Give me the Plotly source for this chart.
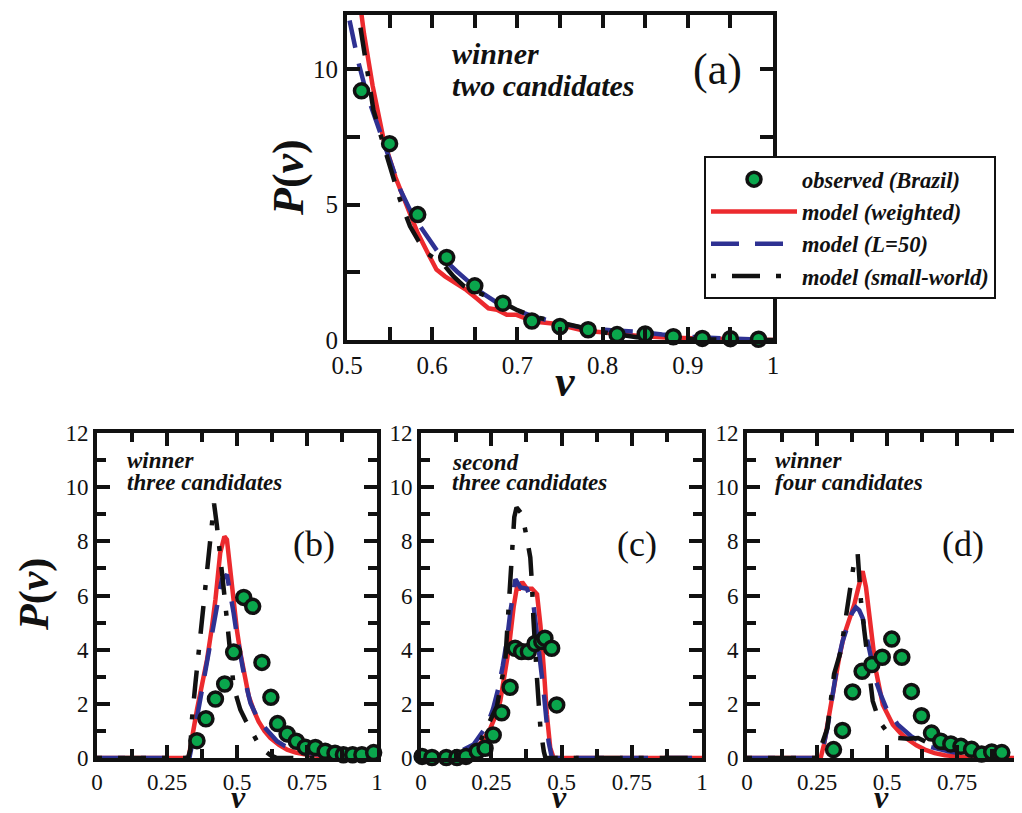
import plotly.graph_objects as go

# ---------------- data ----------------
# panel (a): winner, two candidates
a_obs_v = [0.517, 0.55, 0.583, 0.617, 0.65, 0.683, 0.717, 0.75, 0.783, 0.817, 0.85, 0.883, 0.917, 0.95, 0.983]
a_obs_p = [9.2, 7.25, 4.63, 3.05, 2.0, 1.36, 0.7, 0.5, 0.38, 0.2, 0.22, 0.12, 0.06, 0.05, 0.03]
a_red_v = [0.515, 0.52, 0.53, 0.543, 0.557, 0.57, 0.583, 0.595, 0.605, 0.615, 0.625, 0.64, 0.652, 0.666, 0.676,
           0.6875, 0.699, 0.719, 0.744, 0.76, 0.78, 0.80, 0.84, 0.88, 0.92, 0.96, 1.0]
a_red_p = [12.5, 11.3, 9.4, 7.4, 6.0, 4.95, 3.95, 3.2, 2.6, 2.35, 2.16, 1.85, 1.54, 1.17, 1.12,
           0.93, 0.93, 0.68, 0.6, 0.48, 0.33, 0.29, 0.16, 0.08, 0.04, 0.02, 0.0]
a_blue_v = [0.503, 0.513, 0.523, 0.533, 0.543, 0.553, 0.5625, 0.577, 0.592, 0.61, 0.629, 0.643, 0.656, 0.677,
            0.70, 0.719, 0.75, 0.78, 0.81, 0.84, 0.87, 0.9, 0.95, 1.0]
a_blue_p = [11.8, 10.3, 9.1, 8.2, 7.4, 6.4, 5.55, 4.6, 3.9, 3.1, 2.53, 2.15, 1.79, 1.36,
            1.08, 0.86, 0.62, 0.43, 0.36, 0.31, 0.2, 0.12, 0.05, 0.0]
a_black_v = [0.512, 0.52, 0.531, 0.541, 0.551, 0.562, 0.574, 0.584, 0.594, 0.603, 0.613, 0.625, 0.637, 0.65,
             0.664, 0.684, 0.70, 0.72, 0.754, 0.78, 0.8, 0.84, 0.88, 0.92, 1.0]
a_black_p = [12.3, 10.6, 8.5, 7.4, 6.4, 5.2, 4.2, 3.65, 3.2, 3.0, 2.8, 2.35, 2.0, 1.8,
             1.63, 1.36, 1.1, 0.86, 0.62, 0.45, 0.29, 0.1, 0.05, 0.02, 0.0]

# panel (b): winner, three candidates
b_obs_v = [0.357, 0.389, 0.423, 0.456, 0.488, 0.524, 0.556, 0.589, 0.621, 0.645, 0.679, 0.712, 0.744, 0.78,
           0.815, 0.85, 0.88, 0.913, 0.946, 0.988]
b_obs_p = [0.64, 1.45, 2.18, 2.73, 3.91, 5.93, 5.6, 3.53, 2.24, 1.27, 0.89, 0.62, 0.4, 0.39,
           0.25, 0.18, 0.12, 0.12, 0.12, 0.2]
b_red_v = [0, 0.327, 0.357, 0.375, 0.393, 0.41, 0.423, 0.44, 0.455, 0.464, 0.476, 0.488, 0.5, 0.512, 0.527,
           0.542, 0.56, 0.577, 0.598, 0.619, 0.65, 0.679, 0.71, 0.75, 0.8, 0.845, 0.9, 1.0]
b_red_p = [0, 0, 1.78, 2.7, 3.63, 4.8, 5.85, 7.57, 8.18, 8.06, 6.8, 5.6, 4.7, 3.88, 3.0,
           2.28, 1.75, 1.35, 1.0, 0.74, 0.48, 0.31, 0.2, 0.12, 0.07, 0.04, 0.02, 0]
b_blue_v = [0, 0.33, 0.345, 0.363, 0.381, 0.4, 0.417, 0.432, 0.446, 0.464, 0.476, 0.488, 0.5, 0.512, 0.53,
            0.548, 0.57, 0.595, 0.62, 0.643, 0.67, 0.702, 0.74, 0.786, 0.85, 1.0]
b_blue_p = [0, 0, 0.8, 1.85, 2.9, 4.0, 5.1, 5.9, 6.6, 6.77, 6.1, 5.35, 4.5, 3.75, 2.8,
            2.03, 1.55, 1.17, 0.85, 0.62, 0.45, 0.31, 0.2, 0.12, 0.05, 0]
b_black_v = [0, 0.325, 0.333, 0.339, 0.351, 0.363, 0.375, 0.387, 0.397, 0.405, 0.412, 0.418, 0.428, 0.44, 0.452,
             0.464, 0.476, 0.488, 0.5, 0.512, 0.53, 0.548, 0.57, 0.595, 0.62, 0.643, 1.0]
b_black_p = [0, 0, 0.3, 1.42, 2.7, 3.9, 5.1, 6.3, 7.3, 8.2, 8.9, 9.4, 8.6, 7.6, 6.3,
             5.1, 3.9, 2.65, 2.2, 1.78, 1.4, 1.05, 0.65, 0.3, 0.1, 0, 0]

# panel (c): second, three candidates
c_obs_v = [0.004, 0.039, 0.09, 0.128, 0.16, 0.2, 0.228, 0.257, 0.287, 0.317, 0.335, 0.358, 0.382, 0.406,
           0.43, 0.441, 0.465, 0.483]
c_obs_p = [0.06, 0.02, 0.02, 0.02, 0.06, 0.25, 0.36, 0.85, 1.67, 2.61, 4.05, 3.93, 3.93, 4.23,
           4.3, 4.42, 4.05, 1.96]
c_red_v = [0, 0.128, 0.19, 0.22, 0.247, 0.265, 0.282, 0.297, 0.312, 0.33, 0.342, 0.348, 0.36, 0.377, 0.395,
           0.413, 0.425, 0.437, 0.448, 0.46, 0.472, 1.0]
c_red_p = [0.06, 0.06, 0.3, 0.65, 1.1, 1.55, 2.1, 3.0, 4.0, 5.6, 6.35, 6.2, 6.5, 6.25, 6.25,
           6.05, 4.9, 3.3, 1.6, 0.37, 0, 0]
c_blue_v = [0, 0.104, 0.187, 0.235, 0.256, 0.276, 0.291, 0.306, 0.318, 0.33, 0.336, 0.354, 0.377, 0.401,
            0.419, 0.437, 0.454, 0.466, 1.0]
c_blue_p = [0, 0.06, 0.5, 1.2, 1.8, 2.6, 3.4, 4.35, 5.4, 6.3, 6.6, 6.3, 6.25, 5.6,
            4.15, 2.4, 0.6, 0, 0]
c_black_v = [0, 0.128, 0.21, 0.27, 0.3, 0.31, 0.318, 0.332, 0.34, 0.36, 0.377, 0.389, 0.395, 0.4, 0.413,
             0.425, 0.437, 0.443, 1.0]
c_black_p = [0, 0.06, 0.6, 1.9, 3.6, 5.3, 6.9, 8.9, 9.25, 9.0, 8.1, 7.4, 6.4, 5.15, 2.9,
             1.1, 0.25, 0, 0]

# panel (d): winner, four candidates
d_obs_v = [0.309, 0.341, 0.377, 0.411, 0.446, 0.483, 0.517, 0.553, 0.587, 0.623, 0.659, 0.692, 0.728, 0.764,
           0.802, 0.838, 0.874, 0.91]
d_obs_p = [0.31, 1.02, 2.44, 3.2, 3.45, 3.72, 4.39, 3.72, 2.46, 1.56, 0.92, 0.62, 0.52, 0.43,
           0.32, 0.15, 0.22, 0.2]
d_red_v = [0, 0.263, 0.275, 0.293, 0.311, 0.329, 0.347, 0.365, 0.383, 0.398, 0.413, 0.425, 0.443, 0.461,
           0.485, 0.521, 0.548, 0.575, 0.605, 0.635, 0.67, 0.707, 0.79, 1.0]
d_red_p = [0, 0, 0.5, 1.6, 2.7, 3.7, 4.55, 5.1, 5.66, 6.3, 6.9, 6.3, 4.7, 3.2,
           1.97, 1.23, 0.92, 0.68, 0.47, 0.31, 0.18, 0.1, 0.02, 0]
d_blue_v = [0, 0.263, 0.287, 0.305, 0.323, 0.341, 0.359, 0.375, 0.389, 0.401, 0.413, 0.425, 0.437, 0.449,
            0.461, 0.479, 0.497, 0.539, 0.587, 0.647, 0.719, 0.79, 0.874, 1.0]
d_blue_p = [0, 0, 1.1, 2.3, 3.45, 4.3, 4.9, 5.35, 5.56, 5.45, 5.17, 4.6, 3.94, 3.35,
            2.83, 2.3, 1.85, 1.23, 0.8, 0.43, 0.25, 0.12, 0.02, 0]
d_black_v = [0, 0.25, 0.287, 0.311, 0.335, 0.359, 0.383, 0.395, 0.407, 0.419, 0.437, 0.449, 0.473, 0.503,
             0.539, 0.575, 0.611, 0.64, 0.67, 0.72, 0.766, 0.826, 0.91]
d_black_p = [0, 0, 1.1, 3.1, 3.95, 5.66, 7.26, 7.57, 5.8, 4.7, 3.2, 2.1, 1.35, 0.92,
             0.74, 0.71, 0.74, 0.6, 0.43, 0.35, 0.3, 0.06, 0]

series_names = ["observed (Brazil)", "model (weighted)", "model (L=50)", "model (small-world)"]
panel_labels = ["(a)", "(b)", "(c)", "(d)"]
panel_notes = [["winner", "two candidates"], ["winner", "three candidates"],
               ["second", "three candidates"], ["winner", "four candidates"]]

# ---------------- styling ----------------
FONT = "'Liberation Serif', 'Times New Roman', Times, serif"
RED = "#ec2a2e"
BLUE = "#2e3192"
BLACK = "#111111"
GREEN = "#0aa64c"
W, H = 1022, 813
OFF = 8  # page body margin of the written html
LW = 4.5
BLUE_DASH = "28px,16px"
BLACK_DASH = "5px,16px,28px,16px"
MARKER = dict(size=14, color=GREEN, line=dict(color=BLACK, width=3.5))

fig = go.Figure()

panels = [
    ("x", "y", a_obs_v, a_obs_p, a_red_v, a_red_p, a_blue_v, a_blue_p, a_black_v, a_black_p),
    ("x2", "y2", b_obs_v, b_obs_p, b_red_v, b_red_p, b_blue_v, b_blue_p, b_black_v, b_black_p),
    ("x3", "y3", c_obs_v, c_obs_p, c_red_v, c_red_p, c_blue_v, c_blue_p, c_black_v, c_black_p),
    ("x4", "y4", d_obs_v, d_obs_p, d_red_v, d_red_p, d_blue_v, d_blue_p, d_black_v, d_black_p),
]

for i, (xa, ya, ov, op, rv, rp, bv, bp, kv, kp) in enumerate(panels):
    fig.add_trace(go.Scatter(x=rv, y=rp, xaxis=xa, yaxis=ya, mode="lines",
                             line=dict(color=RED, width=LW), name=series_names[1], showlegend=False))
    fig.add_trace(go.Scatter(x=bv, y=bp, xaxis=xa, yaxis=ya, mode="lines",
                             line=dict(color=BLUE, width=LW, dash=BLUE_DASH), name=series_names[2],
                             showlegend=False))
    fig.add_trace(go.Scatter(x=kv, y=kp, xaxis=xa, yaxis=ya, mode="lines",
                             line=dict(color=BLACK, width=LW, dash=BLACK_DASH),
                             name=series_names[3], showlegend=False))
    fig.add_trace(go.Scatter(x=ov, y=op, xaxis=xa, yaxis=ya, mode="markers",
                             marker=MARKER, name=series_names[0], showlegend=False, cliponaxis=False))

# legend entries (same styles as panel (a))
fig.add_trace(go.Scatter(x=[None], y=[None], mode="markers", name=series_names[0], marker=MARKER))
fig.add_trace(go.Scatter(x=[None], y=[None], mode="lines", name=series_names[1],
                         line=dict(color=RED, width=LW)))
fig.add_trace(go.Scatter(x=[None], y=[None], mode="lines", name=series_names[2],
                         line=dict(color=BLUE, width=LW, dash=BLUE_DASH)))
fig.add_trace(go.Scatter(x=[None], y=[None], mode="lines", name=series_names[3],
                         line=dict(color=BLACK, width=LW, dash=BLACK_DASH)))


def px_x(p):
    return (p - OFF) / W


def px_y(p):
    return 1 - (p - OFF) / H


def axis_common(**kw):
    d = dict(showline=True, linewidth=4, linecolor=BLACK, mirror="ticks", ticks="inside",
             ticklen=13, tickwidth=4, tickcolor=BLACK, showgrid=False, zeroline=False,
             automargin=False, tickmode="linear",
             tickfont=dict(family=FONT, size=23, color="#111"), fixedrange=True)
    d.update(kw)
    return d


fig.update_layout(
    width=W, height=H,
    margin=dict(l=0, r=0, t=0, b=0, autoexpand=False),
    paper_bgcolor="white", plot_bgcolor="white",
    showlegend=True,
    legend=dict(x=px_x(704), y=px_y(156), xanchor="left", yanchor="top",
                bgcolor="white", bordercolor=BLACK, borderwidth=2,
                font=dict(family=FONT, size=22.5, color="#111", style="italic", weight="bold"),
                itemwidth=86, tracegroupgap=0, traceorder="normal"),
    xaxis=axis_common(domain=[px_x(347), px_x(773)], range=[0.5, 1.0], anchor="y",
                      tick0=0.5, dtick=0.1,
                      tickfont=dict(family=FONT, size=25, color="#111"),
                      minor=dict(dtick=0.05, ticks="inside", ticklen=13, tickwidth=4, tickcolor=BLACK)),
    yaxis=axis_common(domain=[px_y(340), px_y(15)], range=[0, 12], anchor="x",
                      tick0=0, dtick=5,
                      tickfont=dict(family=FONT, size=25, color="#111"),
                      minor=dict(dtick=2.5, ticks="inside", ticklen=13, tickwidth=4, tickcolor=BLACK)),
)

bottom_x = [(97, 377), (421, 702), (747, W + OFF)]
for k, (l, r) in enumerate(bottom_x):
    n = k + 2
    fig.layout[f"xaxis{n}"] = axis_common(
        domain=[px_x(l), min(1.0, px_x(r))],
        range=[0, (r - l) / 280 if k == 2 else 1.0], anchor=f"y{n}", tick0=0, dtick=0.25,
        minor=dict(dtick=0.125, ticks="inside", ticklen=9, tickwidth=4, tickcolor=BLACK))
    fig.layout[f"yaxis{n}"] = axis_common(
        domain=[px_y(758), px_y(433)], range=[0, 12], anchor=f"x{n}", tick0=0, dtick=2,
        minor=dict(dtick=1, ticks="inside", ticklen=9, tickwidth=4, tickcolor=BLACK))

ann = []
# axis titles
ann.append(dict(text="<b><i>P</i>(<i>v</i>)</b>", x=px_x(288), y=px_y(178), textangle=-90,
                font=dict(family=FONT, size=44, color="#111")))
ann.append(dict(text="<b><i>v</i></b>", x=px_x(565), y=px_y(381),
                font=dict(family=FONT, size=44, color="#111")))
ann.append(dict(text="<b><i>P</i>(<i>v</i>)</b>", x=px_x(34), y=px_y(595), textangle=-90,
                font=dict(family=FONT, size=42, color="#111")))
for cx in (238, 559, 881):
    ann.append(dict(text="<b><i>v</i></b>", x=px_x(cx), y=px_y(797),
                    font=dict(family=FONT, size=32, color="#111")))
# panel letters
ann.append(dict(text=panel_labels[0], x=px_x(717), y=px_y(70), font=dict(family=FONT, size=44, color="#111")))
for lab, cx in zip(panel_labels[1:], (314, 637, 963)):
    ann.append(dict(text=lab, x=px_x(cx), y=px_y(544), font=dict(family=FONT, size=36, color="#111")))
# notes (one annotation per line)
note_pos = [(450, 53, 85, 30), (125, 460, 482, 23), (450, 462, 482, 23), (773, 460, 482, 23)]
for lines, (lx, y1, y2, fs) in zip(panel_notes, note_pos):
    for txt, yy in zip(lines, (y1, y2)):
        ann.append(dict(text="<b><i>" + txt + "</i></b>", x=px_x(lx), y=px_y(yy),
                        xanchor="left", yanchor="middle", align="left",
                        font=dict(family=FONT, size=fs, color="#111")))

for a in ann:
    a.setdefault("xref", "paper")
    a.setdefault("yref", "paper")
    a.setdefault("showarrow", False)
    a.setdefault("xanchor", "center")
    a.setdefault("yanchor", "middle")
fig.update_layout(annotations=ann)

fig.write_html("out.html")
